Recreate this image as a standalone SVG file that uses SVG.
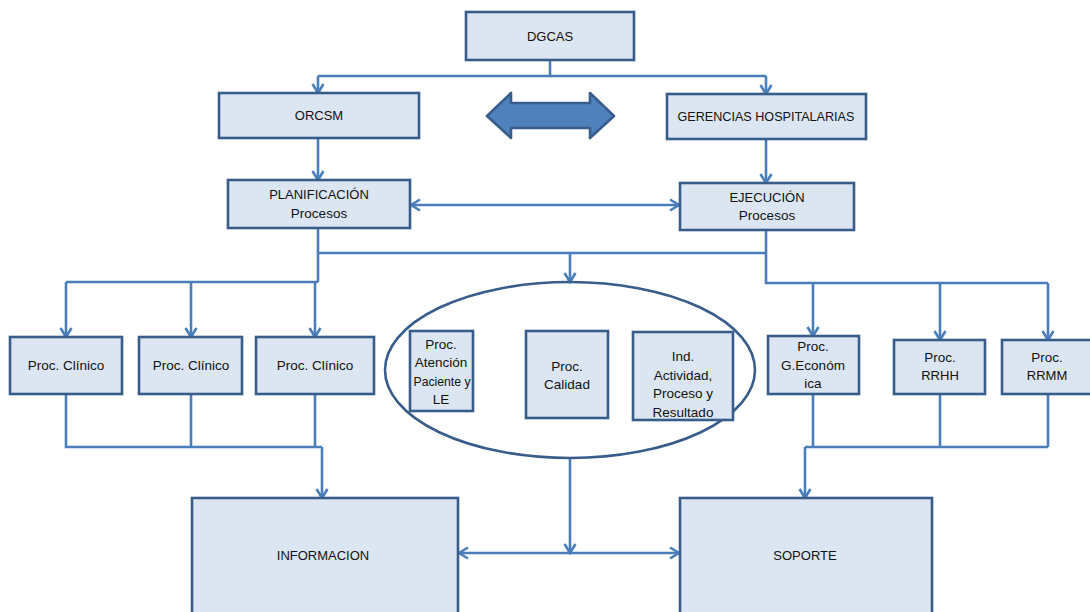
<svg xmlns="http://www.w3.org/2000/svg" width="1090" height="612" viewBox="0 0 1090 612">
<style>
.box{fill:#DCE6F2;stroke:#385D8A;stroke-width:2.6}
.t{font-family:"Liberation Sans",Arial,sans-serif;font-size:13px;fill:#111;text-anchor:middle}
.s{font-size:13.5px}
.c{fill:none;stroke:#4A7EBB;stroke-width:2.6}
</style>
<defs>
<marker id="a" viewBox="0 0 14 14" refX="12" refY="7" markerWidth="14" markerHeight="14" orient="auto-start-reverse" markerUnits="userSpaceOnUse">
<path d="M3,1.5 L12,7 L3,12.5" fill="none" stroke="#4A7EBB" stroke-width="2.6"/>
</marker>
</defs>
<rect width="1090" height="612" fill="#fff"/>
<g id="connectors">
<path class="c" d="M550,60 V76 M318,76 H766"/>
<path class="c" d="M318,76 V93" marker-end="url(#a)"/>
<path class="c" d="M766,76 V94" marker-end="url(#a)"/>
<path class="c" d="M318,138 V180" marker-end="url(#a)"/>
<path class="c" d="M766,139 V183" marker-end="url(#a)"/>
<path class="c" d="M411,205 H679" marker-start="url(#a)" marker-end="url(#a)"/>
<path class="c" d="M318,228 V282 M318,253 H766 M66,282 H318"/>
<path class="c" d="M570,253 V282" marker-end="url(#a)"/>
<path class="c" d="M66,282 V337" marker-end="url(#a)"/>
<path class="c" d="M191,282 V337" marker-end="url(#a)"/>
<path class="c" d="M315,282 V337" marker-end="url(#a)"/>
<path class="c" d="M66,394 V447 H322 M191,394 V447 M315,394 V447"/>
<path class="c" d="M322,447 V498" marker-end="url(#a)"/>
<path class="c" d="M766,230 V283 H1048"/>
<path class="c" d="M813,283 V336" marker-end="url(#a)"/>
<path class="c" d="M940,283 V340" marker-end="url(#a)"/>
<path class="c" d="M1048,283 V340" marker-end="url(#a)"/>
<path class="c" d="M813,394 V447 M940,394 V447 M1048,394 V447 M805,447 H1048"/>
<path class="c" d="M805,447 V498" marker-end="url(#a)"/>
<path class="c" d="M570,458 V553" marker-end="url(#a)"/>
<path class="c" d="M459,553 H679" marker-start="url(#a)" marker-end="url(#a)"/>
</g>
<g id="bigArrow">
<polygon points="487,116 511,93 511,103 590,103 590,93 614,116 590,138 590,128 511,128 511,138" fill="#4F81BD" stroke="#385D8A" stroke-width="2.6" stroke-linejoin="round"/>
</g>
<g id="dgcas"><rect class="box" x="466" y="12" width="168" height="48"/><text class="t" x="550" y="41">DGCAS</text></g>
<g id="orcsm"><rect class="box" x="219" y="93" width="200" height="45"/><text class="t" x="319" y="120">ORCSM</text></g>
<g id="gerencias"><rect class="box" x="667" y="94" width="199" height="45"/><text class="t" x="766" y="121" style="font-size:12.6px">GERENCIAS HOSPITALARIAS</text></g>
<g id="planificacion"><rect class="box" x="228" y="180" width="182" height="48"/><text class="t" x="319" y="199">PLANIFICACIÓN</text><text class="t s" x="319" y="218">Procesos</text></g>
<g id="ejecucion"><rect class="box" x="680" y="183" width="174" height="47"/><text class="t" x="767" y="202">EJECUCIÓN</text><text class="t s" x="767" y="220">Procesos</text></g>
<g id="clinico1"><rect class="box" x="10" y="337" width="112" height="57"/><text class="t s" x="66" y="370">Proc. Clínico</text></g>
<g id="clinico2"><rect class="box" x="139" y="337" width="103" height="57"/><text class="t s" x="191" y="370">Proc. Clínico</text></g>
<g id="clinico3"><rect class="box" x="256" y="337" width="118" height="57"/><text class="t s" x="315" y="370">Proc. Clínico</text></g>
<g id="ellipseGroup"><ellipse cx="570" cy="370" rx="185" ry="88" fill="none" stroke="#385D8A" stroke-width="2.6"/></g>
<g id="atencion"><rect class="box" x="410" y="331" width="63" height="80"/><text class="t s" x="441" y="349">Proc.</text><text class="t s" x="441" y="367">Atención</text><text class="t s" x="442" y="386" textLength="57" lengthAdjust="spacingAndGlyphs">Paciente y</text><text class="t s" x="441" y="404">LE</text></g>
<g id="calidad"><rect class="box" x="526" y="331" width="82" height="87"/><text class="t s" x="567" y="371">Proc.</text><text class="t s" x="567" y="389">Calidad</text></g>
<g id="indicadores"><rect class="box" x="633" y="332" width="100" height="88"/><text class="t s" x="683" y="361">Ind.</text><text class="t s" x="683" y="380">Actividad,</text><text class="t s" x="683" y="398">Proceso y</text><text class="t s" x="683" y="417">Resultado</text></g>
<g id="economica"><rect class="box" x="768" y="336" width="91" height="58"/><text class="t s" x="813" y="351">Proc.</text><text class="t s" x="813" y="370">G.Económ</text><text class="t s" x="813" y="388">ica</text></g>
<g id="rrhh"><rect class="box" x="894" y="340" width="91" height="54"/><text class="t s" x="940" y="362">Proc.</text><text class="t" x="940" y="380">RRHH</text></g>
<g id="rrmm"><rect class="box" x="1002" y="340" width="92" height="54"/><text class="t s" x="1047" y="362">Proc.</text><text class="t" x="1047" y="380">RRMM</text></g>
<g id="informacion"><rect class="box" x="192" y="498" width="266" height="120"/><text class="t" x="323" y="560">INFORMACION</text></g>
<g id="soporte"><rect class="box" x="680" y="498" width="252" height="120"/><text class="t" x="805" y="560">SOPORTE</text></g>
</svg>
